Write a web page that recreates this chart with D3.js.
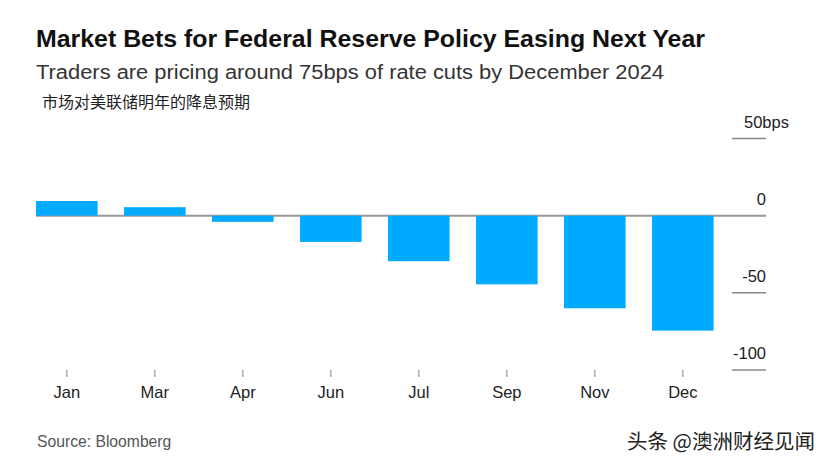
<!DOCTYPE html>
<html><head><meta charset="utf-8">
<script src="https://cdn.jsdelivr.net/npm/d3@7"></script>
<style>
body{margin:0;background:#fff;}
svg{display:block;}
text{font-family:"Liberation Sans",Arial,sans-serif;}
</style></head>
<body>
<svg id="c" width="830" height="470"></svg>
<script>
const months = ["Jan","Mar","Apr","Jun","Jul","Sep","Nov","Dec"];
const bps = [9.5, 5.5, -4, -17, -29.5, -44.5, -60, -74.5];
const yTicks = [50, 0, -50, -100];
const yTickUnit = "bps";

const title = "Market Bets for Federal Reserve Policy Easing Next Year";
const subtitle = "Traders are pricing around 75bps of rate cuts by December 2024";
const cnNote = "市场对美联储明年的降息预期";
const source = "Source: Bloomberg";
const watermark = "头条 @澳洲财经见闻";

const svg = d3.select("#c");
svg.append("rect").attr("width",830).attr("height",470).attr("fill","#fff");

const x = d3.scaleBand().domain(months).range([22.8, 726.8]).paddingInner(0.3).paddingOuter(0.15);
const y = d3.scaleLinear().domain([-100, 50]).range([370, 138.5]);

// titles
svg.append("text").attr("x",36).attr("y",47).attr("font-size",23).attr("font-weight","bold")
  .attr("fill","#111").attr("textLength",669).attr("lengthAdjust","spacingAndGlyphs").text(title);
svg.append("text").attr("x",36).attr("y",79).attr("font-size",19.5).attr("fill","#333")
  .attr("textLength",628).attr("lengthAdjust","spacingAndGlyphs").text(subtitle);
svg.append("text").attr("x",42).attr("y",108).attr("font-size",15.5).attr("fill","#222")
  .attr("textLength",208).attr("lengthAdjust","spacingAndGlyphs")
  .style("font-family","'Noto Sans CJK SC',sans-serif").text(cnNote);

// y gridlines (right side ticks)
const yg = svg.append("g");
yTicks.forEach((t,i)=>{
  const yy = y(t);
  if (t === 0) {
    yg.append("line").attr("x1",36).attr("x2",766).attr("y1",yy).attr("y2",yy)
      .attr("stroke","#999").attr("stroke-width",2);
  } else {
    yg.append("line").attr("x1",732).attr("x2",766).attr("y1",yy).attr("y2",yy)
      .attr("stroke","#888").attr("stroke-width",1.5);
  }
  const lbl = yg.append("text").attr("y",yy-11).attr("font-size",16.5).attr("fill","#222");
  if (i === 0) {
    lbl.attr("x",744).attr("text-anchor","start").text(String(t) + yTickUnit);
  } else {
    lbl.attr("x",766).attr("text-anchor","end").text(String(t));
  }
});

// bars
svg.append("g").selectAll("rect").data(months).join("rect")
  .attr("x", d=>x(d)).attr("width", x.bandwidth())
  .attr("y", (d,i)=>y(Math.max(0,bps[i])))
  .attr("height", (d,i)=>Math.abs(y(bps[i])-y(0)))
  .attr("fill","#00aaff");

// x axis
const xa = svg.append("g").attr("transform","translate(0,370)")
  .call(d3.axisBottom(x).tickSize(7).tickPadding(9));
xa.select(".domain").remove();
xa.selectAll(".tick line").attr("stroke","#999").attr("stroke-width",1.3);
xa.selectAll(".tick text").attr("font-size",16.5).attr("fill","#222")
  .style("font-family","'Liberation Sans',Arial,sans-serif");

// footer
svg.append("text").attr("x",37).attr("y",447).attr("font-size",15.7).attr("fill","#555").text(source);
svg.append("text").attr("x",815).attr("y",449).attr("text-anchor","end").attr("font-size",20.5)
  .attr("fill","#222").style("font-family","'Noto Sans CJK SC',sans-serif").text(watermark);
</script>
</body></html>
